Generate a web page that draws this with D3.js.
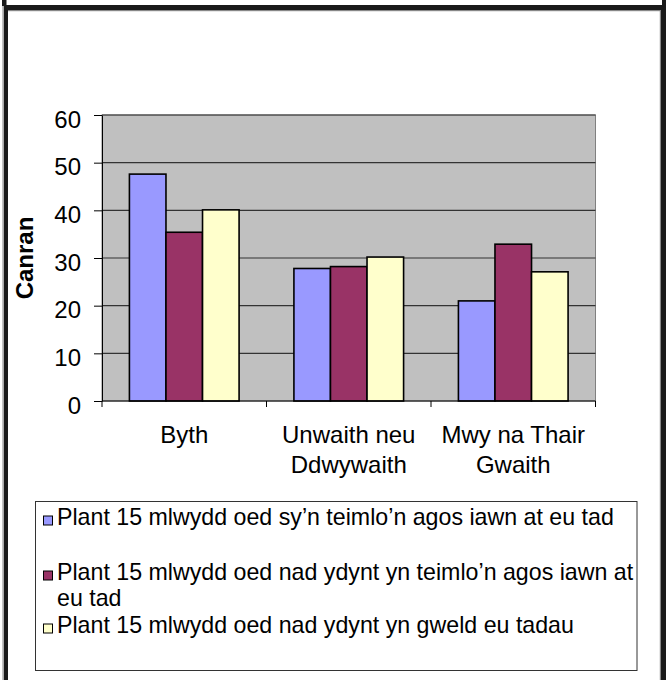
<!DOCTYPE html>
<html>
<head>
<meta charset="utf-8">
<script src="https://cdn.jsdelivr.net/npm/d3@7"></script>
<style>
  body { margin: 0; background: #fff; }
  svg { display: block; font-family: "Liberation Sans", Arial, sans-serif; }
</style>
</head>
<body>
<div id="chart"></div>
<script>
// Data
const categories = ["Byth", "Unwaith neu Ddwywaith", "Mwy na Thair Gwaith"];
const categoryLabels = [["Byth"], ["Unwaith neu", "Ddwywaith"], ["Mwy na Thair", "Gwaith"]];
const seriesNames = [
  "Plant 15 mlwydd oed sy’n teimlo’n agos iawn at eu tad",
  "Plant 15 mlwydd oed nad ydynt yn teimlo’n agos iawn at eu tad",
  "Plant 15 mlwydd oed nad ydynt yn gweld eu tadau"
];
const closeValues = [47.6, 27.8, 21.0];
const notCloseValues = [35.4, 28.2, 32.9];
const noContactValues = [40.1, 30.2, 27.1];
const yTicks = [0, 10, 20, 30, 40, 50, 60];
const yLabel = "Canran";

const seriesValues = [closeValues, notCloseValues, noContactValues];
const colors = ["#9999FF", "#993366", "#FFFFCC"];

const width = 670, height = 680;
const plot = { left: 102, right: 595.5, top: 115, bottom: 401 };

const svg = d3
  .select("#chart")
  .append("svg")
  .attr("width", width)
  .attr("height", height);

svg.append("rect").attr("width", width).attr("height", height).attr("fill", "#fff");

// Outer frame
svg.append("rect").attr("x", 2.5).attr("y", 5).attr("width", 1.2).attr("height", height).attr("fill", "#888");
svg.append("rect").attr("x", 4).attr("y", 5).attr("width", 4).attr("height", height).attr("fill", "#1a1a1a");
svg.append("rect").attr("x", 659.8).attr("y", 10).attr("width", 1.2).attr("height", height).attr("fill", "#888");
svg.append("rect").attr("x", 661).attr("y", 5).attr("width", 5).attr("height", height).attr("fill", "#1a1a1a");
svg.append("rect").attr("x", 4).attr("y", 5).attr("width", 662).attr("height", 5).attr("fill", "#1a1a1a");
svg.append("rect").attr("x", 8).attr("y", 10).attr("width", 652).attr("height", 1.2).attr("fill", "#888");
svg.append("rect").attr("x", 2).attr("y", 0).attr("width", 4.5).attr("height", 6).attr("fill", "#1a1a1a");
svg.append("rect").attr("x", 662).attr("y", 0).attr("width", 4).attr("height", 6).attr("fill", "#1a1a1a");

// Scales
const xScale = d3.scaleBand().domain(categories).range([plot.left, plot.right]);
const xInner = d3
  .scaleBand()
  .domain(d3.range(seriesValues.length))
  .range([0, xScale.bandwidth()])
  .paddingInner(0)
  .paddingOuter(0.75);
const yScale = d3.scaleLinear().domain([0, 60]).range([plot.bottom, plot.top]);

// Plot area
svg
  .append("rect")
  .attr("x", plot.left)
  .attr("y", plot.top)
  .attr("width", plot.right - plot.left)
  .attr("height", plot.bottom - plot.top)
  .attr("fill", "#C0C0C0")
  .attr("stroke", "#808080")
  .attr("stroke-width", 1);

// Gridlines
svg
  .append("g")
  .selectAll("line")
  .data(yTicks.filter((d) => d > 0))
  .enter()
  .append("line")
  .attr("x1", plot.left)
  .attr("x2", plot.right)
  .attr("y1", (d) => yScale(d))
  .attr("y2", (d) => yScale(d))
  .attr("stroke", "#333")
  .attr("stroke-width", 1.2);

// Bars
const groups = svg
  .append("g")
  .selectAll("g")
  .data(categories)
  .enter()
  .append("g")
  .attr("transform", (d) => `translate(${xScale(d)},0)`);

groups
  .selectAll("rect")
  .data((d, i) => seriesValues.map((vals, s) => ({ s: s, value: vals[i] })))
  .enter()
  .append("rect")
  .attr("x", (d) => xInner(d.s))
  .attr("y", (d) => yScale(d.value))
  .attr("width", xInner.bandwidth())
  .attr("height", (d) => yScale(0) - yScale(d.value))
  .attr("fill", (d) => colors[d.s])
  .attr("stroke", "#000")
  .attr("stroke-width", 1.6);

// Y axis
const yAxis = svg
  .append("g")
  .attr("transform", `translate(${plot.left},0)`)
  .call(d3.axisLeft(yScale).tickValues(yTicks).tickSize(8).tickPadding(13).tickSizeOuter(0));
yAxis.select(".domain").attr("stroke", "#000");
yAxis.selectAll(".tick line").attr("stroke", "#000");
yAxis
  .selectAll(".tick text")
  .attr("font-size", 24)
  .attr("font-family", "Liberation Sans, Arial, sans-serif")
  .attr("fill", "#000")
  .attr("dy", "0.5em");

// X axis
const xAxis = svg.append("g").attr("transform", `translate(0,${plot.bottom})`);
xAxis
  .append("line")
  .attr("x1", plot.left)
  .attr("x2", plot.right)
  .attr("stroke", "#000");
xAxis
  .selectAll(".tick")
  .data(categories.map((c) => xScale(c)).concat([plot.right]))
  .enter()
  .append("line")
  .attr("x1", (d) => d)
  .attr("x2", (d) => d)
  .attr("y1", 0)
  .attr("y2", 6)
  .attr("stroke", "#000");

categories.forEach((c, i) => {
  const t = xAxis
    .append("text")
    .attr("x", xScale(c) + xScale.bandwidth() / 2)
    .attr("y", 42)
    .attr("text-anchor", "middle")
    .attr("font-size", 24)
    .attr("fill", "#000");
  categoryLabels[i].forEach((line, j) => {
    t.append("tspan")
      .attr("x", xScale(c) + xScale.bandwidth() / 2)
      .attr("dy", j === 0 ? 0 : 29.5)
      .text(line);
  });
});

// Y axis title
svg
  .append("text")
  .attr("transform", `translate(33,${(plot.top + plot.bottom) / 2}) rotate(-90)`)
  .attr("text-anchor", "middle")
  .attr("font-size", 24)
  .attr("font-weight", "bold")
  .attr("fill", "#000")
  .text(yLabel);

// Legend
const legend = svg.append("g");
legend
  .append("rect")
  .attr("x", 35.5)
  .attr("y", 501.5)
  .attr("width", 601.5)
  .attr("height", 169)
  .attr("fill", "#fff")
  .attr("stroke", "#333");

const legendRowY = [525, 580, 633];
const legendMaxWidth = 592;

seriesNames.forEach((name, i) => {
  const y = legendRowY[i];
  legend
    .append("rect")
    .attr("x", 43.5)
    .attr("y", y - 9)
    .attr("width", 9)
    .attr("height", 9)
    .attr("fill", colors[i])
    .attr("stroke", "#000");

  const text = legend
    .append("text")
    .attr("x", 57)
    .attr("y", y)
    .attr("font-size", 23.2)
    .attr("fill", "#000");

  // simple word wrap
  const words = name.split(" ");
  let line = [];
  let tspan = text.append("tspan").attr("x", 57).attr("dy", 0);
  words.forEach((w) => {
    line.push(w);
    tspan.text(line.join(" "));
    if (tspan.node().getComputedTextLength() > legendMaxWidth && line.length > 1) {
      line.pop();
      tspan.text(line.join(" "));
      line = [w];
      tspan = text.append("tspan").attr("x", 57).attr("dy", 26).text(w);
    }
  });
});
</script>
</body>
</html>
